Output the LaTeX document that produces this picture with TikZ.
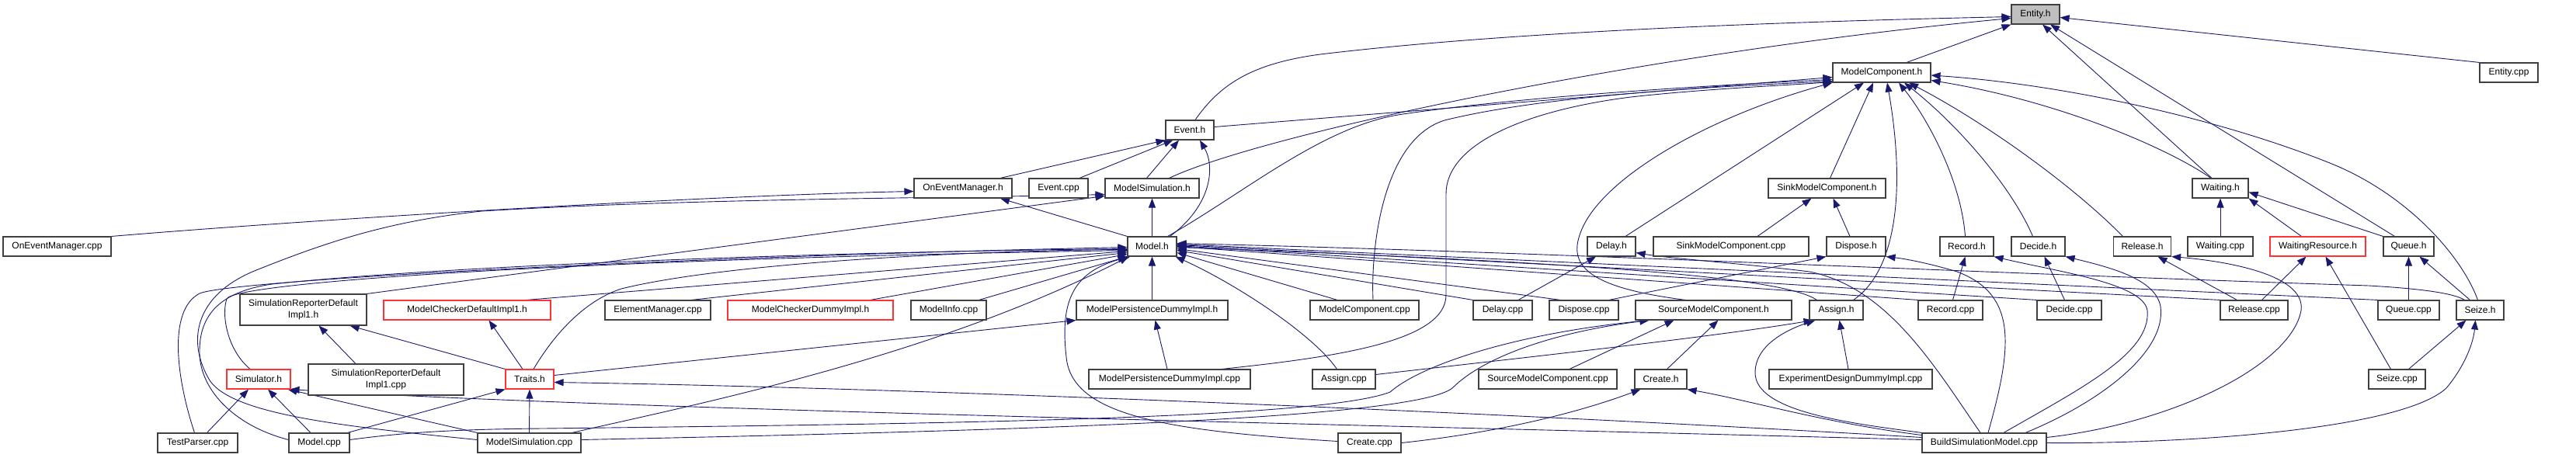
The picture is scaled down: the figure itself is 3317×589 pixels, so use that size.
\documentclass[tikz,border=0pt]{standalone}
\usepackage{fontspec}
\setmainfont{Liberation Sans}
\usetikzlibrary{arrows.meta}
\definecolor{edgeblue}{HTML}{191970}
\definecolor{boxline}{HTML}{404040}
\definecolor{boxred}{HTML}{FF3333}
\definecolor{entityfill}{HTML}{BFBFBF}
\pgfdeclarelayer{bg}
\pgfsetlayers{bg,main}
\newcommand{\nd}[6][]{\node[box,minimum width=#5pt,#1] (#2) at (#3,#4) {#6};}
\begin{document}
\begin{tikzpicture}[x=1pt,y=-1pt,
  box/.style={draw=boxline,line width=1.1pt,fill=white,inner sep=0pt,minimum height=25pt,
    font=\fontsize{12}{15}\selectfont,align=center,text=black},
  redbox/.style={draw=boxred},
  edge/.style={draw=edgeblue,line width=0.9pt,-{Triangle[length=12pt,width=9pt]}}]
\useasboundingbox (0,0) rectangle (3317,589);
% row 0-3
\nd[fill=entityfill]{entityh}{2621}{18.5}{62}{Entity.h}
\nd{mch}{2423}{93.5}{126}{ModelComponent.h}
\nd{entitycpp}{3230.5}{93.5}{75}{Entity.cpp}
\nd{eventh}{1532}{167.5}{62}{Event.h}
\nd{oemh}{1240}{242.5}{126}{OnEventManager.h}
\nd{eventcpp}{1363}{242.5}{76}{Event.cpp}
\nd{msh}{1483.5}{242.5}{121}{ModelSimulation.h}
\nd{sinkh}{2352.5}{242.5}{151}{SinkModelComponent.h}
\nd{waitingh}{2859}{242.5}{72}{Waiting.h}
% row 4
\nd{oemcpp}{73.5}{317.5}{139}{OnEventManager.cpp}
\nd{modelh}{1483.5}{317.5}{63}{Model.h}
\nd{delayh}{2075}{317.5}{62}{Delay.h}
\nd{sinkcpp}{2229}{317.5}{200}{SinkModelComponent.cpp}
\nd{disposeh}{2390}{317.5}{76}{Dispose.h}
\nd{recordh}{2532.5}{317.5}{69}{Record.h}
\nd{decideh}{2624.5}{317.5}{69}{Decide.h}
\nd{releaseh}{2758.5}{317.5}{74}{Release.h}
\nd{waitingcpp}{2859}{317.5}{84}{Waiting.cpp}
\nd[redbox]{wrh}{2984.5}{317.5}{123}{WaitingResource.h}
\nd{queueh}{3101.5}{317.5}{65}{Queue.h}
% row 5
\nd[minimum height=40pt]{srdih}{390.5}{399}{163}{SimulationReporterDefault\\Impl1.h}
\nd[redbox]{mcdih}{601.5}{399.5}{215}{ModelCheckerDefaultImpl1.h}
\nd{emcpp}{847}{399.5}{136}{ElementManager.cpp}
\nd[redbox]{mcdummyh}{1043.5}{399.5}{213}{ModelCheckerDummyImpl.h}
\nd{minfocpp}{1221.5}{399.5}{97}{ModelInfo.cpp}
\nd{mpdih}{1483.5}{399.5}{195}{ModelPersistenceDummyImpl.h}
\nd{mccpp}{1757}{399.5}{140}{ModelComponent.cpp}
\nd{delaycpp}{1935}{399.5}{76}{Delay.cpp}
\nd{disposecpp}{2039.5}{399.5}{89}{Dispose.cpp}
\nd{smch}{2206.5}{399.5}{201}{SourceModelComponent.h}
\nd{assignh}{2364.5}{399.5}{69}{Assign.h}
\nd{recordcpp}{2511.5}{399.5}{83}{Record.cpp}
\nd{decidecpp}{2664.5}{399.5}{83}{Decide.cpp}
\nd{releasecpp}{2902.5}{399.5}{87}{Release.cpp}
\nd{queuecpp}{3101.5}{399.5}{79}{Queue.cpp}
\nd{seizeh}{3193.5}{399.5}{61}{Seize.h}
% row 6
\nd[redbox]{simh}{333}{488.5}{82}{Simulator.h}
\nd[minimum height=40pt]{srdicpp}{497}{489}{200}{SimulationReporterDefault\\Impl1.cpp}
\nd[redbox]{traitsh}{682}{488.5}{62}{Traits.h}
\nd{mpdicpp}{1506}{488.5}{208}{ModelPersistenceDummyImpl.cpp}
\nd{assigncpp}{1730.5}{488.5}{81}{Assign.cpp}
\nd{smccpp}{1993}{488.5}{178}{SourceModelComponent.cpp}
\nd{createh}{2138.5}{488.5}{67}{Create.h}
\nd{eddicpp}{2383}{488.5}{210}{ExperimentDesignDummyImpl.cpp}
\nd{seizecpp}{3086.5}{488.5}{73}{Seize.cpp}
% row 7
\nd{testparser}{254.5}{570.5}{103}{TestParser.cpp}
\nd{modelcpp}{411}{570.5}{78}{Model.cpp}
\nd{mscpp}{681.5}{570.5}{133}{ModelSimulation.cpp}
\nd{createcpp}{1763.5}{570.5}{81}{Create.cpp}
\nd{bsm}{2555}{570.5}{160}{BuildSimulationModel.cpp}

\begin{pgfonlayer}{bg}
% Entity.h
\draw[edge] ([xshift=32pt]mch.north) -- (entityh.south west);
\draw[edge] (entitycpp.north west) -- ([yshift=-4pt]entityh.east);
\draw[edge] ([xshift=7pt]eventh.north) .. controls (1570,110) and (1610,82) .. (1700,70) .. controls (1950,40) and (2300,28) .. ([yshift=-3pt]entityh.west);
\draw[edge] ([xshift=22pt]msh.north) .. controls (1620,175) and (2100,70) .. ([yshift=-5pt]entityh.west);
\draw[edge] ([xshift=-11pt]waitingh.north) -- ([xshift=9pt]entityh.south);
\draw[edge] ([xshift=-18pt]queueh.north) -- ([xshift=19pt]entityh.south);
% ModelComponent.h
\draw[edge] ([yshift=4pt]eventh.east) -- ([yshift=-6pt]mch.west);
\draw[edge] ([xshift=20pt]modelh.north) .. controls (1600,250) and (1700,165) .. (1800,148) .. controls (1950,125) and (2200,110) .. ([yshift=-9pt]mch.west);
\draw[edge] ([xshift=11pt]mccpp.north) .. controls (1765,320) and (1780,180) .. (1860,155) .. controls (2000,120) and (2250,110) .. ([yshift=-11pt]mch.west);
\draw[edge] ([xshift=67pt]mpdicpp.north) .. controls (1720,460) and (1862,440) .. (1862,380) -- (1862,250) .. controls (1862,180) and (1980,140) .. (2100,125) .. controls (2200,114) and (2300,110) .. ([yshift=-12pt]mch.west);
\draw[edge] ([xshift=-36pt]smch.north) .. controls (2040,370) and (2020,340) .. (2035,300) .. controls (2060,230) and (2200,150) .. (mch.south west);
\draw[edge] ([xshift=4pt]sinkh.north) -- ([xshift=-11pt]mch.south);
\draw[edge] ([xshift=18pt]delayh.north) -- ([xshift=-23pt]mch.south);
\draw[edge] ([xshift=22pt]assignh.north) .. controls (2440,350) and (2455,250) .. ([xshift=7pt]mch.south);
\draw[edge] ([xshift=-2pt]recordh.north) .. controls (2525,230) and (2480,150) .. ([xshift=22pt]mch.south);
\draw[edge] ([xshift=-7pt]decideh.north) .. controls (2590,240) and (2520,160) .. ([xshift=29pt]mch.south);
\draw[edge] ([xshift=-25pt]releaseh.north) .. controls (2670,240) and (2560,160) .. ([xshift=35pt]mch.south);
\draw[edge] ([xshift=-3pt]seizeh.north) .. controls (3170,330) and (3100,250) .. (3000,210) .. controls (2850,150) and (2650,108) .. ([yshift=-3.5pt]mch.east);
\draw[edge] ([xshift=-12pt]waitingh.north) .. controls (2790,190) and (2650,130) .. ([yshift=-10pt]mch.east);
% Event.h
\draw[edge] ([xshift=48pt]oemh.north) -- (eventh.south west);
\draw[edge] ([xshift=27pt]eventcpp.north) -- ([xshift=10pt]eventh.south west);
\draw[edge] ([xshift=-7pt]msh.north) -- ([xshift=-14pt]eventh.south);
\draw[edge] ([xshift=23pt]modelh.north) .. controls (1560,265) and (1565,215) .. ([xshift=13pt]eventh.south);
% OnEventManager.h
\draw[edge] (modelh.north west) -- ([xshift=48pt]oemh.south);
\draw[edge] (oemcpp.north east) .. controls (400,283) and (900,252) .. ([yshift=-4pt]oemh.west);
% ModelSimulation.h
\draw[edge] (modelh) -- (msh);
\draw[edge] (srdih.north east) -- ([yshift=-10pt]msh.west);
\draw[edge] ([yshift=4pt]mscpp.west) .. controls (450,550) and (300,535) .. (270,490) .. controls (240,440) and (250,380) .. (330,348) .. controls (420,312) and (500,285) .. (620,272) .. controls (900,255) and (1250,255) .. ([yshift=-8pt]msh.west);
% Model.h from the left
\draw[edge] ([xshift=-4pt]testparser.north) .. controls (228,490) and (215,400) .. (257,378) .. controls (300,360) and (900,330) .. ([yshift=-1pt]modelh.west);
\draw[edge] ([yshift=4pt]modelcpp.west) .. controls (300,548) and (255,500) .. (257,450) .. controls (258,400) and (290,375) .. (350,366) .. controls (600,340) and (1100,324) .. ([yshift=-3pt]modelh.west);
\draw[edge] ([xshift=-11pt]simh.north) .. controls (292,450) and (285,405) .. (292,385) .. controls (300,365) and (700,335) .. ([yshift=-5pt]modelh.west);
\draw[edge] ([xshift=-32pt]mcdih.north east) -- ([yshift=-6pt]modelh.west);
\draw[edge] ([xshift=43pt]emcpp.north) -- ([yshift=-8pt]modelh.west);
\draw[edge] ([xshift=-30pt]mcdummyh.north east) -- ([yshift=-10pt]modelh.west);
\draw[edge] ([xshift=-10pt]minfocpp.north east) -- (modelh.south west);
\draw[edge] ([xshift=5pt]traitsh.north) .. controls (720,420) and (760,385) .. (800,372) .. controls (950,335) and (1300,322) .. ([yshift=-4pt]modelh.west);
\draw[edge] ([xshift=55pt]mscpp.north) .. controls (900,520) and (1200,460) .. ([xshift=2pt]modelh.south west);
\draw[edge] ([yshift=2pt]createcpp.west) .. controls (1500,555) and (1380,535) .. (1373,460) .. controls (1365,390) and (1380,350) .. ([xshift=4pt]modelh.south west);
% Model.h from the right
\draw[edge] ([xshift=-35pt]mccpp.north) -- ([yshift=-8pt]modelh.east);
\draw[edge] (delaycpp.north west) -- ([yshift=-5pt]modelh.east);
\draw[edge] ([xshift=-30pt]disposecpp.north) -- ([yshift=-3pt]modelh.east);
\draw[edge] ([xshift=-25pt]assignh.north) .. controls (2300,360) and (2100,340) .. ([yshift=-1pt]modelh.east);
\draw[edge] (recordcpp.north west) -- (modelh.east);
\draw[edge] (decidecpp.north west) -- ([yshift=1pt]modelh.east);
\draw[edge] (releasecpp.north west) -- ([yshift=2pt]modelh.east);
\draw[edge] (queuecpp.north west) -- ([yshift=3pt]modelh.east);
\draw[edge] ([xshift=-20pt]seizeh.north) .. controls (3160,378) and (3120,372) .. (3050,368) .. controls (2500,350) and (2000,325) .. ([yshift=4pt]modelh.east);
\draw[edge] ([xshift=-9pt]assigncpp.north) .. controls (1690,430) and (1590,365) .. ([xshift=-2pt]modelh.south east);
% ModelPersistenceDummyImpl.h
\draw[edge] (mpdih) -- (modelh);
\draw[edge] ([xshift=-3pt]mpdicpp.north) -- ([xshift=4pt]mpdih.south);
\draw[edge] ([yshift=5pt]traitsh.east) -- (mpdih.south west);
% ModelCheckerDefaultImpl1.h, SimulationReporterDefaultImpl1.h
\draw[edge] ([xshift=-9pt]traitsh.north) -- ([xshift=28pt]mcdih.south);
\draw[edge] (traitsh.north west) -- ([xshift=-22pt]srdih.south east);
\draw[edge] ([xshift=-39pt]srdicpp.north) -- ([xshift=20pt]srdih.south);
% Simulator.h
\draw[edge] ([xshift=12pt]testparser.north) -- ([xshift=-13pt]simh.south);
\draw[edge] ([xshift=-11pt]modelcpp.north) -- ([xshift=12pt]simh.south);
\draw[edge] (mscpp.north west) -- ([xshift=-4pt]simh.south east);
\draw[edge] ([yshift=4pt]bsm.west) .. controls (1800,548) and (800,528) .. ([xshift=-1pt]simh.south east);
% Traits.h
\draw[edge] ([xshift=-3pt]modelcpp.north east) -- (traitsh.south west);
\draw[edge] (mscpp.north) -- (traitsh.south);
\draw[edge] ([yshift=7pt]bsm.west) .. controls (2000,535) and (1200,500) .. ([yshift=-4pt]traitsh.east);
% SourceModelComponent.h
\draw[edge] ([yshift=4pt]modelcpp.east) .. controls (500,560) and (560,553) .. (700,552) .. controls (1200,546) and (1700,540) .. (1790,505) .. controls (1830,470) and (1950,430) .. ([xshift=-83pt]smch.south);
\draw[edge] ([yshift=4pt]mscpp.east) .. controls (1300,555) and (1820,540) .. (1870,500) .. controls (1910,460) and (2000,428) .. ([xshift=-83pt]smch.south);
\draw[edge] ([xshift=28pt]smccpp.north) -- ([xshift=-51pt]smch.south);
\draw[edge] ([xshift=8pt]createh.north) -- ([xshift=6pt]smch.south);
% Create.h
\draw[edge] (createcpp.east) .. controls (1950,555) and (2050,525) .. ([xshift=-26pt]createh.south);
\draw[edge] ([yshift=10pt]bsm.west) .. controls (2350,545) and (2250,515) .. (createh.south east);
% Delay.h
\draw[edge] ([xshift=20pt]delaycpp.north) -- ([xshift=-20pt]delayh.south);
\draw[edge] ([xshift=-5pt]bsm.north) .. controls (2490,470) and (2430,370) .. (2330,350) .. controls (2250,340) and (2150,333) .. ([yshift=-8pt]delayh.east);
% Dispose.h, SinkModelComponent.h
\draw[edge] ([xshift=32pt]disposecpp.north) -- (disposeh.south west);
\draw[edge] ([xshift=5pt]bsm.north) .. controls (2590,450) and (2600,380) .. (2520,350) .. controls (2480,338) and (2450,333) .. (disposeh.south east);
\draw[edge] ([xshift=-8pt]disposeh.north) -- ([xshift=8pt]sinkh.south);
\draw[edge] ([xshift=34pt]sinkcpp.north) -- ([xshift=-20pt]sinkh.south);
% Assign.h
\draw[edge] ([yshift=6pt]assigncpp.east) .. controls (1950,462) and (2200,435) .. ([xshift=-30pt]assignh.south);
\draw[edge] ([xshift=-3pt]eddicpp.north) -- ([xshift=4pt]assignh.south);
\draw[edge] (bsm.north west) .. controls (2380,545) and (2260,530) .. (2260,480) .. controls (2260,445) and (2300,425) .. ([xshift=-27pt]assignh.south);
% Record.h, Decide.h
\draw[edge] ([xshift=3pt]recordcpp.north) -- ([xshift=-2pt]recordh.south);
\draw[edge] ([xshift=25pt]bsm.north) .. controls (2680,500) and (2770,455) .. (2765,400) .. controls (2760,365) and (2650,350) .. (recordh.south east);
\draw[edge] ([xshift=-6pt]decidecpp.north) -- ([xshift=8pt]decideh.south);
\draw[edge] ([xshift=53pt]bsm.north) .. controls (2700,520) and (2790,455) .. (2782,395) .. controls (2776,360) and (2720,345) .. (decideh.south east);
% Release.h
\draw[edge] ([xshift=-22pt]releasecpp.north) -- ([xshift=20pt]releaseh.south);
\draw[edge] ([yshift=7pt]bsm.east) .. controls (2800,545) and (2950,470) .. (2963,400) .. controls (2970,350) and (2850,335) .. (releaseh.south east);
% Seize.h, WaitingResource.h
\draw[edge] (bsm.east) .. controls (2800,572) and (3090,555) .. (3150,500) .. controls (3175,470) and (3185,440) .. ([xshift=-6pt]seizeh.south);
\draw[edge] ([xshift=15pt]seizecpp.north) -- ([xshift=-18pt]seizeh.south);
\draw[edge] ([xshift=-8pt]seizecpp.north) -- ([xshift=10pt]wrh.south);
\draw[edge] ([xshift=10pt]releasecpp.north) -- ([xshift=-15pt]wrh.south);
% Waiting.h, Queue.h
\draw[edge] ([xshift=-21pt]wrh.north) -- (waitingh.south east);
\draw[edge] (queueh.north west) -- ([yshift=-5pt]waitingh.east);
\draw[edge] (waitingcpp) -- (waitingh);
\draw[edge] (queuecpp) -- (queueh);
\draw[edge] ([xshift=-13pt]seizeh.north) -- ([xshift=14pt]queueh.south);
\end{pgfonlayer}
\end{tikzpicture}
\end{document}
